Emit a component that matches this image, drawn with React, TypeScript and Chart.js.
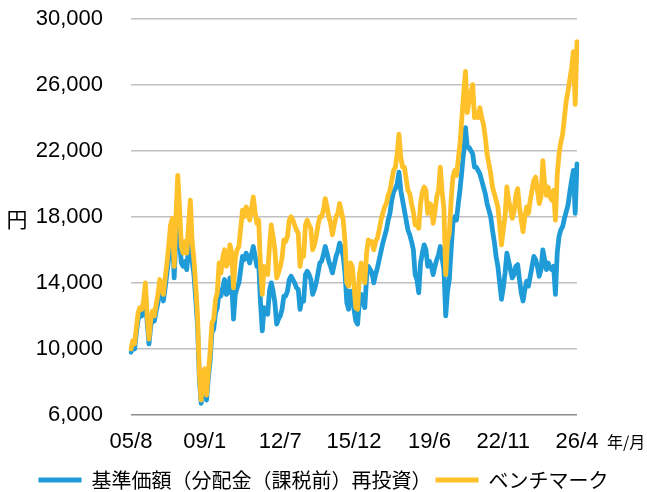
import React, { useEffect, useRef } from 'react';
import { Chart, registerables } from 'chart.js';

Chart.register(...registerables);

// ---- Data ----
const START_YEAR = 2005;
const START_MONTH = 8;
const MONTH_COUNT = 249; // 2005/8 .. 2026/4

const MONTH_LABELS: string[] = Array.from({ length: MONTH_COUNT }, (_, i) => {
  const t = START_YEAR * 12 + (START_MONTH - 1) + i;
  const y = Math.floor(t / 12);
  const m = (t % 12) + 1;
  return `${String(y % 100).padStart(2, '0')}/${m}`;
});

const TICK_LABELS = ['05/8', '09/1', '12/7', '15/12', '19/6', '22/11', '26/4'];

const SERIES_NAMES = ['基準価額（分配金（課税前）再投資）', 'ベンチマーク'];

const Y_UNIT = '円';
const X_UNIT = '年/月';

const Y_MIN = 6000;
const Y_MAX = 30000;
const Y_STEP = 4000;

// 基準価額（分配金（課税前）再投資）
const FUND: number[] = [
  9800, 10200, 10000, 11000, 11800,
  12100, 12000, 12400, 13200, 11600, 10300, 11400, 11800, 11700, 12300, 12800, 13700,
  13500, 12900, 13700, 14600, 15500, 16600, 17000, 14300, 16800, 18000, 16500, 15200,
  15000, 15300, 14800, 16200, 16800, 15300, 14500, 13000, 11400, 8200, 6700, 8200,
  8300, 6900, 8200, 9300, 11000, 11200, 12200, 12500, 13500, 13200, 13700, 14200,
  13300, 13400, 14300, 13900, 11800, 13300, 13700, 14000, 14800, 15600, 15400, 15800,
  15600, 15200, 15700, 16200, 15600, 15000, 15200, 12800, 11100, 12500, 12200, 12100,
  13500, 14000, 13500, 12800, 11500, 11800, 12000, 12400, 13200, 13200, 13500, 14200,
  14400, 14200, 14000, 13700, 13600, 12400, 13000, 12900, 14500, 14700, 14500, 14200,
  13300, 13600, 14000, 14600, 15200, 15300, 15700, 16200, 15800, 15300, 15000, 14600,
  15100, 15600, 15900, 16400, 16100, 15600, 14600, 12800, 12400, 13500, 13300, 12400,
  11700, 11500, 12900, 13300, 12800, 12500, 14300, 15000, 14800, 14600, 14000, 14500,
  14900, 15400, 15900, 16400, 16800, 17200, 17800, 18200, 19000, 19500, 19700, 20000,
  20700, 19600, 19000, 18400, 17800, 17200, 16900, 16500, 16000, 14500, 14200, 13400,
  15200, 15800, 16300, 16000, 15000, 15300, 15000, 14500, 15000, 15400, 15700, 16200,
  15500, 14800, 12000, 13500, 14200, 16000, 17600, 18000, 17800, 18800, 19700, 20800,
  22000, 23400, 22200, 22200, 22000, 21800, 21000, 21000, 20800, 20600, 20200, 19800,
  19400, 18800, 18400, 18000, 17200, 16500, 15600, 15000, 14000, 13000, 13700, 14600,
  15800, 15300, 14800, 14300, 14500, 15000, 15100, 14200, 13400, 12900, 13600, 14100,
  13800, 14400, 15000, 15600, 15400, 15000, 14400, 14800, 16000, 15400, 14800, 15200,
  14900, 14800, 15000, 13300, 15800, 16800, 17200, 17400, 17900, 18300, 18700, 19500,
  20200, 20800, 18200, 21200,
];

// ベンチマーク
const BENCH: number[] = [
  10000, 10500, 10300, 11300, 12200,
  12500, 12400, 12900, 14000, 12000, 10600, 11800, 12300, 12000, 12700, 13300, 14200,
  14000, 13300, 14300, 15200, 16300, 17500, 17900, 15000, 18000, 20500, 18500, 16200,
  15800, 16500, 15800, 17500, 19000, 16500, 15400, 13800, 12000, 8500, 6900, 8600,
  8800, 7200, 8600, 9800, 11600, 11800, 13000, 13400, 15200, 14600, 15500, 16000,
  15000, 15200, 16300, 15800, 13700, 15500, 16000, 16200, 17300, 18400, 18000, 18600,
  18300, 17800, 18500, 19200, 18300, 17600, 17800, 15000, 13300, 15000, 14600, 14500,
  16200, 17500, 16800, 16000, 14300, 14600, 15000, 15500, 16600, 16500, 16800, 17800,
  18000, 17800, 17500, 17200, 17000, 15000, 15800, 15600, 17500, 17800, 17500, 17300,
  16000, 16300, 16800, 17500, 18000, 18000, 18400, 19100, 18600, 18000, 17600, 16900,
  17500, 18000, 18200, 18800, 18300, 17800, 16500, 14000, 13800, 15200, 15000, 13800,
  12500, 12400, 14500, 15200, 14400, 14000, 15800, 16600, 16400, 16500, 16000, 16500,
  16700, 17200, 17800, 18200, 18600, 18800, 19300, 19600, 20200, 20800, 21000, 21800,
  23000, 21600, 21000, 21000, 20300, 19600, 19400, 18800, 18300, 17500, 17600, 17300,
  18800, 19500, 19800, 19600, 18200, 18800, 18700, 17600, 18300, 19200, 19600, 21000,
  19500, 18500, 14500, 16500, 17000, 19000, 20400, 20800, 20500, 21500, 22500, 24000,
  25500, 26800, 24300, 25000, 25500, 26000, 24000, 24300, 24000, 24600, 24000, 23600,
  22800, 21800, 21200, 20600, 19800, 19400, 19000, 18600, 17500, 16300, 17200, 18000,
  19800, 19000, 18500, 17900, 18300, 19300, 19700, 18600, 17800, 17100, 18000, 18600,
  18200, 19000, 19600, 20200, 20400, 19600, 18800, 19200, 21400, 20000, 19300, 19800,
  19200, 19000, 19600, 17800, 20500, 21800, 22500, 23000, 24000, 25000, 25600, 26300,
  27000, 28000, 24800, 28600,
];

const COLORS = ['#1F9CD8', '#FFC12A'];
const JP_FONT = '"Noto Sans CJK JP", "Noto Sans", sans-serif';
const NUM_FONT = '"Liberation Sans", Arial, sans-serif';

const unitPlugin = {
  id: 'unitLabels',
  afterDraw(chart: any) {
    const { ctx, chartArea } = chart;
    ctx.save();
    ctx.fillStyle = '#000';
    ctx.textBaseline = 'middle';
    ctx.textAlign = 'center';
    ctx.font = `21px ${JP_FONT}`;
    ctx.fillText(Y_UNIT, 17, (chartArea.top + chartArea.bottom) / 2 + 2);
    ctx.textAlign = 'left';
    ctx.font = `16px ${JP_FONT}`;
    ctx.fillText(X_UNIT, chartArea.right + 30, 442);
    ctx.restore();
  },
};

export default function App() {
  const ref = useRef<HTMLCanvasElement | null>(null);

  useEffect(() => {
    if (!ref.current) return;
    const chart = new Chart(ref.current, {
      type: 'line',
      data: {
        labels: MONTH_LABELS,
        datasets: [
          {
            label: SERIES_NAMES[0],
            data: FUND,
            borderColor: COLORS[0],
            backgroundColor: COLORS[0],
            borderWidth: 4.8,
            pointRadius: 0,
            tension: 0,
            borderJoinStyle: 'round',
            borderCapStyle: 'round',
            order: 2,
          },
          {
            label: SERIES_NAMES[1],
            data: BENCH,
            borderColor: COLORS[1],
            backgroundColor: COLORS[1],
            borderWidth: 4.8,
            pointRadius: 0,
            tension: 0,
            borderJoinStyle: 'round',
            borderCapStyle: 'round',
            order: 1,
          },
        ],
      },
      options: {
        animation: false,
        responsive: false,
        devicePixelRatio: 1,
        layout: { padding: { left: 0, right: 0, top: 18.5, bottom: -8 } },
        plugins: {
          tooltip: { enabled: false },
          legend: {
            position: 'bottom',
            labels: {
              usePointStyle: true,
              pointStyle: 'line',
              pointStyleWidth: 43,
              padding: 4,
              color: '#000',
              font: { family: JP_FONT, size: 20 },
              sort: (a: any, b: any) => a.datasetIndex - b.datasetIndex,
            },
          },
        },
        scales: {
          x: {
            type: 'category',
            offset: false,
            grid: { display: false, drawTicks: false },
            border: { display: false },
            ticks: {
              autoSkip: false,
              maxRotation: 0,
              minRotation: 0,
              padding: 14,
              color: '#000',
              font: { family: NUM_FONT, size: 22 },
              callback: function (this: any, _v: any, idx: number) {
                const lab = MONTH_LABELS[idx];
                return TICK_LABELS.includes(lab) ? lab : '';
              },
            },
            afterFit: (s: any) => {
              s.height = 51;
              s.paddingLeft = 0;
              s.paddingRight = 0;
            },
          },
          y: {
            min: Y_MIN,
            max: Y_MAX,
            grid: {
              drawTicks: false,
              lineWidth: 1.5,
              color: (c: any) => (c.tick && c.tick.value === Y_MIN ? '#8C8C8C' : '#C0C0C0'),
            },
            border: { display: false },
            ticks: {
              stepSize: Y_STEP,
              padding: 28,
              color: '#000',
              font: { family: NUM_FONT, size: 22 },
              callback: (v: any) => Number(v).toLocaleString('en-US'),
            },
            afterFit: (s: any) => {
              s.width = 131;
              s.paddingTop = 0;
              s.paddingBottom = 0;
            },
          },
          yRightSpace: {
            type: 'linear',
            position: 'right',
            display: true,
            grid: { display: false, drawTicks: false },
            border: { display: false },
            ticks: { display: false },
            afterFit: (s: any) => {
              s.width = 70;
              s.paddingTop = 0;
              s.paddingBottom = 0;
            },
          },
        },
      },
      plugins: [unitPlugin],
    });
    return () => chart.destroy();
  }, []);

  return (
    <div style={{ position: 'absolute', left: 0, top: 0, width: 647, height: 492 }}>
      <canvas ref={ref} width={647} height={492} />
    </div>
  );
}
